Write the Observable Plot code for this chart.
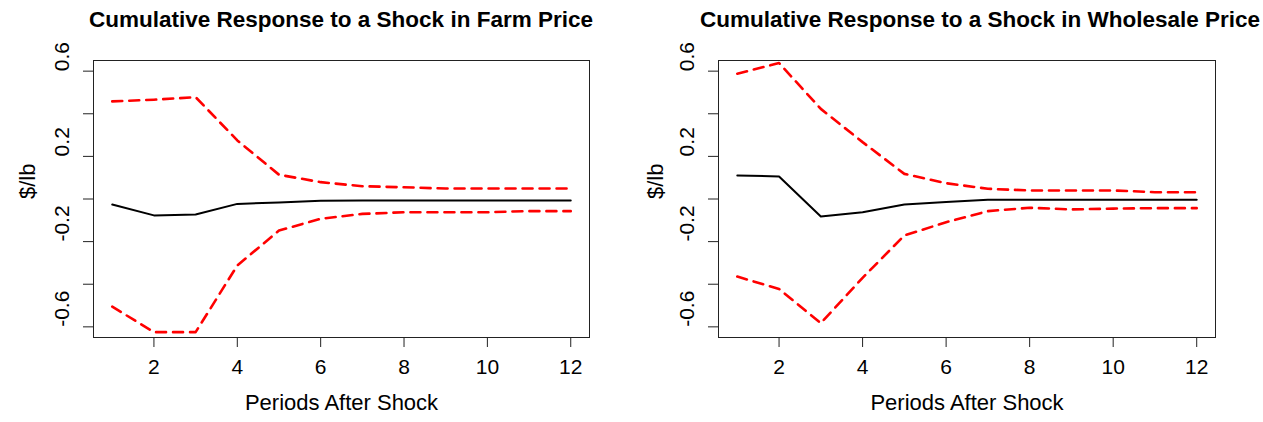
<!DOCTYPE html>
<html>
<head>
<meta charset="utf-8">
<script src="https://cdn.jsdelivr.net/npm/d3@7"></script>
<script src="https://cdn.jsdelivr.net/npm/@observablehq/plot@0.6"></script>
<style>
  body { margin: 0; background: #fff; }
  #wrap { position: relative; width: 1263px; height: 422px; overflow: hidden; font-family: "Liberation Sans", Arial, sans-serif; }
  .panel { position: absolute; top: 0; height: 422px; }
  .title { position: absolute; top: 0; height: 40px; line-height: 40px; font-weight: bold; font-size: 22.5px; color: #000; white-space: nowrap; transform: translateX(-50%); }
  .plot { position: absolute; top: 40px; left: 0; }
</style>
</head>
<body>
<div id="wrap"></div>
<script>
// ---- data ----
const periods = [1, 2, 3, 4, 5, 6, 7, 8, 9, 10, 11, 12];

const farmTitle = "Cumulative Response to a Shock in Farm Price";
const farmResponse = [-0.026, -0.077, -0.073, -0.023, -0.016, -0.008, -0.007, -0.007, -0.007, -0.007, -0.007, -0.007];
const farmUpper    = [0.458, 0.466, 0.478, 0.275, 0.114, 0.079, 0.060, 0.055, 0.049, 0.049, 0.049, 0.049];
const farmLower    = [-0.505, -0.625, -0.625, -0.312, -0.148, -0.093, -0.070, -0.062, -0.062, -0.062, -0.057, -0.057];

const wholesaleTitle = "Cumulative Response to a Shock in Wholesale Price";
const wholesaleResponse = [0.110, 0.106, -0.082, -0.062, -0.026, -0.014, -0.003, -0.003, -0.003, -0.003, -0.003, -0.003];
const wholesaleUpper    = [0.588, 0.638, 0.423, 0.267, 0.118, 0.074, 0.048, 0.040, 0.040, 0.040, 0.032, 0.032];
const wholesaleLower    = [-0.364, -0.422, -0.583, -0.370, -0.171, -0.109, -0.057, -0.041, -0.049, -0.045, -0.043, -0.043];

const xTicks = [2, 4, 6, 8, 10, 12];
const yTicks = [-0.6, -0.4, -0.2, 0, 0.2, 0.4, 0.6];
const yTickLabels = [0.6, 0.2, -0.2, -0.6];
const xLabel = "Periods After Shock";
const yLabel = "$/lb";

// ---- drawing ----
const font = "'Liberation Sans', Arial, sans-serif";

function panel(title, resp, up, lo, opts) {
  const div = document.createElement("div");
  div.className = "panel";
  div.style.left = opts.left + "px";
  div.style.width = opts.width + "px";

  const t = document.createElement("div");
  t.className = "title";
  t.style.left = opts.titleCenter + "px";
  t.textContent = title;
  div.appendChild(t);

  const rows = (vals) => periods.map((p, i) => ({x: p, y: vals[i]}));

  const chart = Plot.plot({
    width: opts.width,
    height: 382,
    marginTop: 20,
    marginBottom: 85,
    marginLeft: opts.marginLeft,
    marginRight: opts.marginRight,
    x: {domain: [0.55, 12.45]},
    y: {domain: [-0.65, 0.65]},
    style: {fontFamily: font, fontSize: "21px", color: "#000", background: "#fff", overflow: "visible"},
    marks: [
      Plot.frame({stroke: "#222", strokeWidth: 1}),
      Plot.axisX({ticks: xTicks, tickSize: 10, tickPadding: 12, fontSize: 21, label: null, stroke: "#222"}),
      Plot.axisY({ticks: yTicks, tickSize: 10, tickFormat: () => "", label: null, stroke: "#222"}),
      Plot.text(yTickLabels, {y: d => d, text: d => d.toFixed(1), frameAnchor: "left", dx: -31, rotate: -90, fontSize: 21, fill: "#000"}),
      Plot.text([xLabel], {text: d => d, frameAnchor: "bottom", dy: 72, fontSize: 22, fill: "#000"}),
      Plot.text([yLabel], {text: d => d, frameAnchor: "left", dx: opts.yLabelDx, rotate: -90, fontSize: 22, fill: "#000"}),
      Plot.line(rows(up), {x: "x", y: "y", stroke: "#ff0000", strokeWidth: 2.6, strokeDasharray: "10,7"}),
      Plot.line(rows(lo), {x: "x", y: "y", stroke: "#ff0000", strokeWidth: 2.6, strokeDasharray: "10,7"}),
      Plot.line(rows(resp), {x: "x", y: "y", stroke: "#000", strokeWidth: 2})
    ]
  });
  chart.classList.add("plot");
  div.appendChild(chart);
  document.getElementById("wrap").appendChild(div);
}

panel(farmTitle, farmResponse, farmUpper, farmLower, {left: 0, width: 631, marginLeft: 93, marginRight: 42, yLabelDx: -66, titleCenter: 341});
panel(wholesaleTitle, wholesaleResponse, wholesaleUpper, wholesaleLower, {left: 631, width: 632, marginLeft: 87, marginRight: 48, yLabelDx: -63, titleCenter: 349});
</script>
</body>
</html>
